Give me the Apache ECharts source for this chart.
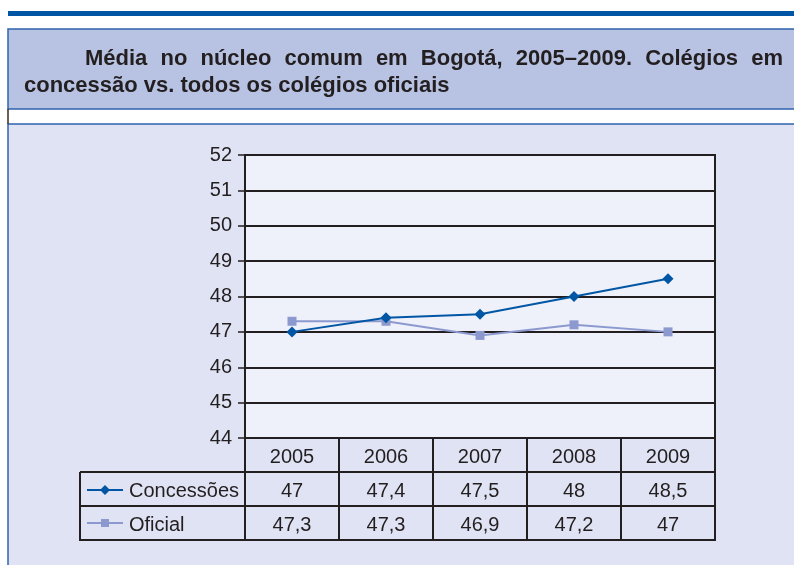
<!DOCTYPE html>
<html>
<head>
<meta charset="utf-8">
<script src="https://cdn.jsdelivr.net/npm/echarts@6/dist/echarts.min.js"></script>
<style>
html, body { margin: 0; padding: 0; background: #fff; }
#main { width: 794px; height: 565px; }
</style>
</head>
<body>
<div id="main"></div>
<script>
// data
var years = ['2005', '2006', '2007', '2008', '2009'];
var concessoes = [47, 47.4, 47.5, 48, 48.5];
var oficial = [47.3, 47.3, 46.9, 47.2, 47];
var seriesNames = ['Concessões', 'Oficial'];
var yMin = 44, yMax = 52, yStep = 1;
var titleLine1 = 'Média no núcleo comum em Bogotá, 2005–2009. Colégios em';
var titleLine2 = 'concessão vs. todos os colégios oficiais';

var INK = '#231f20';
var BLUE = '#0056a4';
var LILAC = '#8c99cf';
var FONT = '"Liberation Sans", Arial, sans-serif';

var chartDom = document.getElementById('main');
var myChart = echarts.init(chartDom, null, { renderer: 'canvas' });

var grid = { left: 245, right: 79, top: 155, bottom: 127 };

myChart.setOption({
    animation: false,
    grid: {
        left: grid.left,
        right: grid.right,
        top: grid.top,
        bottom: grid.bottom,
        show: true,
        backgroundColor: '#eef1fa',
        borderColor: INK,
        borderWidth: 2
    },
    xAxis: {
        type: 'category',
        data: years,
        boundaryGap: true,
        axisLine: { show: false },
        axisTick: { show: false },
        axisLabel: { show: false },
        splitLine: { show: false }
    },
    yAxis: {
        type: 'value',
        min: yMin,
        max: yMax,
        interval: yStep,
        axisLine: { show: true, lineStyle: { color: INK, width: 2 } },
        axisTick: { show: true, length: 7, lineStyle: { color: INK, width: 1.5 } },
        axisLabel: { color: INK, fontSize: 20, fontFamily: FONT, margin: 13 },
        splitLine: { show: true, lineStyle: { color: INK, width: 2 } }
    },
    series: [
        {
            name: seriesNames[0],
            type: 'line',
            data: concessoes,
            symbol: 'diamond',
            symbolSize: 11,
            itemStyle: { color: BLUE },
            lineStyle: { color: BLUE, width: 2 },
            z: 4
        },
        {
            name: seriesNames[1],
            type: 'line',
            data: oficial,
            symbol: 'rect',
            symbolSize: 9,
            itemStyle: { color: LILAC },
            lineStyle: { color: LILAC, width: 2 },
            z: 3
        }
    ]
});

// column centres from the category axis
var centers = years.map(function (y, i) {
    return myChart.convertToPixel({ xAxisIndex: 0 }, i);
});
var step = centers[1] - centers[0];
var colLeft = centers[0] - step / 2;
var colRight = centers[centers.length - 1] + step / 2;
var tableTop = myChart.convertToPixel({ yAxisIndex: 0 }, yMin);
var rowH = 34;
var labelLeft = 80;

function fmt(v) {
    return String(v).replace('.', ',');
}

function hLine(x1, x2, y) {
    return { type: 'line', shape: { x1: x1, y1: y, x2: x2, y2: y }, style: { stroke: INK, lineWidth: 2 }, z: 10 };
}
function vLine(x, y1, y2) {
    return { type: 'line', shape: { x1: x, y1: y1, x2: x, y2: y2 }, style: { stroke: INK, lineWidth: 2 }, z: 10 };
}
function cellText(x, y, txt, align) {
    return {
        type: 'text', x: x, y: y, z: 11,
        style: { text: txt, fill: INK, font: '20px ' + FONT, align: align || 'center', verticalAlign: 'middle' }
    };
}

var g = [];

// page decoration: top rule, title box, panel
g.push({ type: 'rect', shape: { x: 8, y: 11, width: 786, height: 5 }, style: { fill: BLUE }, z: -10 });
g.push({ type: 'rect', shape: { x: 8, y: 124, width: 790, height: 445 }, style: { fill: '#dfe3f3', stroke: '#2f63ae', lineWidth: 1.5 }, z: -10 });
g.push({ type: 'rect', shape: { x: 8, y: 29, width: 790, height: 80 }, style: { fill: '#b8c2e2', stroke: '#2f63ae', lineWidth: 1.5 }, z: -10 });
g.push({ type: 'line', shape: { x1: 8, y1: 109, x2: 8, y2: 124 }, style: { stroke: '#3b2a22', lineWidth: 1.5 }, z: -10 });

// title, first line justified
var ctx = document.createElement('canvas').getContext('2d');
var titleFont = 'bold 22px ' + FONT;
ctx.font = titleFont;
var words = titleLine1.split(' ');
var widths = words.map(function (w) { return ctx.measureText(w).width; });
var total = widths.reduce(function (a, b) { return a + b; }, 0);
var tx0 = 85, tx1 = 783;
var gap = (tx1 - tx0 - total) / (words.length - 1);
var cx = tx0;
words.forEach(function (w, i) {
    g.push({ type: 'text', x: cx, y: 59, z: 5, style: { text: w, fill: INK, font: titleFont, align: 'left', verticalAlign: 'middle' } });
    cx += widths[i] + gap;
});
g.push({ type: 'text', x: 24, y: 86, z: 5, style: { text: titleLine2, fill: INK, font: titleFont, align: 'left', verticalAlign: 'middle' } });

// data table
var r0 = tableTop, r1 = r0 + rowH, r2 = r1 + rowH, r3 = r2 + rowH;
g.push(hLine(colLeft, colRight, r0));
g.push(hLine(labelLeft, colRight, r1));
g.push(hLine(labelLeft, colRight, r2));
g.push(hLine(labelLeft - 1, colRight + 1, r3));
g.push(vLine(labelLeft, r1, r3));
centers.forEach(function (c) {
    g.push(vLine(c - step / 2, r0, r3));
});
g.push(vLine(colRight, r0 - 1, r3 + 1));

years.forEach(function (y, i) {
    g.push(cellText(centers[i], (r0 + r1) / 2 + 2, y));
    g.push(cellText(centers[i], (r1 + r2) / 2 + 2, fmt(concessoes[i])));
    g.push(cellText(centers[i], (r2 + r3) / 2 + 2, fmt(oficial[i])));
});

// legend keys inside the table
var ky1 = (r1 + r2) / 2 + 1, ky2 = (r2 + r3) / 2;
g.push({ type: 'line', shape: { x1: 87, y1: ky1, x2: 123, y2: ky1 }, style: { stroke: BLUE, lineWidth: 2 }, z: 11 });
g.push({ type: 'polygon', shape: { points: [[105, ky1 - 5], [110, ky1], [105, ky1 + 5], [100, ky1]] }, style: { fill: BLUE }, z: 12 });
g.push({ type: 'line', shape: { x1: 87, y1: ky2, x2: 123, y2: ky2 }, style: { stroke: LILAC, lineWidth: 2 }, z: 11 });
g.push({ type: 'rect', shape: { x: 101, y: ky2 - 4, width: 8, height: 8 }, style: { fill: LILAC }, z: 12 });
g.push(cellText(129, ky1 + 1, seriesNames[0], 'left'));
g.push(cellText(129, ky2 + 2, seriesNames[1], 'left'));

myChart.setOption({ graphic: { elements: g } });

window.addEventListener('resize', function () {
    myChart.resize();
});
</script>
</body>
</html>
